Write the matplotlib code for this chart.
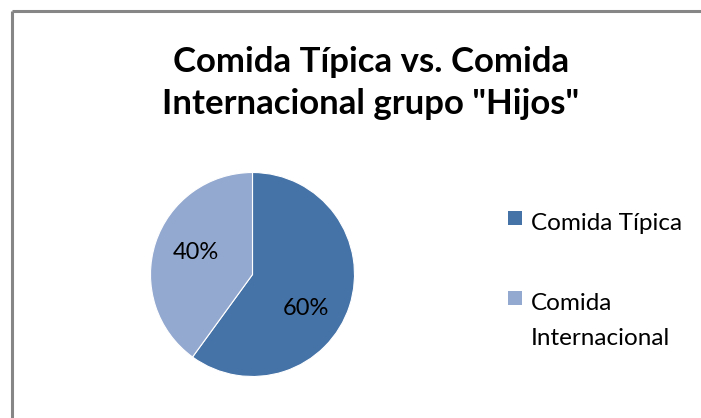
import matplotlib.pyplot as plt
from matplotlib.patches import Rectangle
from matplotlib.lines import Line2D
import math

# data
categories = ['Comida Típica', 'Comida Internacional']
legend_labels = ['Comida Típica', 'Comida\nInternacional']
shares = [60, 40]
colors = ['#4572a7', '#94a9d0']
title = 'Comida Típica vs. Comida\nInternacional grupo "Hijos"'

plt.rcParams['font.family'] = ['Lato', 'DejaVu Sans']

W, H = 701, 418
fig = plt.figure(figsize=(W / 100, H / 100), dpi=100)

# outer chart frame: only the left and top edges are visible in the crop
fx, fy = 11.5 / W, 1 - 10.5 / H
fig.add_artist(Line2D([fx, fx], [0, fy], transform=fig.transFigure, color='#868686',
                      linewidth=2.2, solid_capstyle='butt'))
fig.add_artist(Line2D([fx, 1], [fy, fy], transform=fig.transFigure, color='#868686',
                      linewidth=2.2, solid_capstyle='butt'))

fig.text(371 / W, 1 - 83 / H, title, ha='center', va='center', fontsize=25,
         fontweight='bold', linespacing=1.42)

# pie
cx, cy, r = 252.5, 274.5, 102
ax = fig.add_axes([(cx - r) / W, (H - cy - r) / H, 2 * r / W, 2 * r / H])
wedges, texts, autotexts = ax.pie(shares, colors=colors, startangle=90, counterclock=False,
                                  autopct='%d%%', pctdistance=0.6, radius=1,
                                  wedgeprops=dict(linewidth=0.8, edgecolor='white'),
                                  textprops=dict(fontsize=17, color='black'))
ax.set_xlim(-1, 1)
ax.set_ylim(-1, 1)
ax.set_aspect('equal')
# Excel nudges the labels a little
ang = math.radians(-33)
autotexts[0].set_position((0.62 * math.cos(ang), 0.62 * math.sin(ang)))
ang = math.radians(159)
autotexts[1].set_position((0.59 * math.cos(ang), 0.59 * math.sin(ang)))

# legend drawn by hand so the square sits on the first line
box = 14
for i, (lab, col) in enumerate(zip(legend_labels, colors)):
    top = 211 + i * 80
    fig.patches.append(Rectangle((508 / W, 1 - (top + box) / H), box / W, box / H,
                                 transform=fig.transFigure, facecolor=col, edgecolor='none'))
    fig.text(531 / W, 1 - (top + 2) / H, lab, ha='left', va='top', fontsize=17.5,
             linespacing=1.85)

fig.savefig('out.png', dpi=100)
